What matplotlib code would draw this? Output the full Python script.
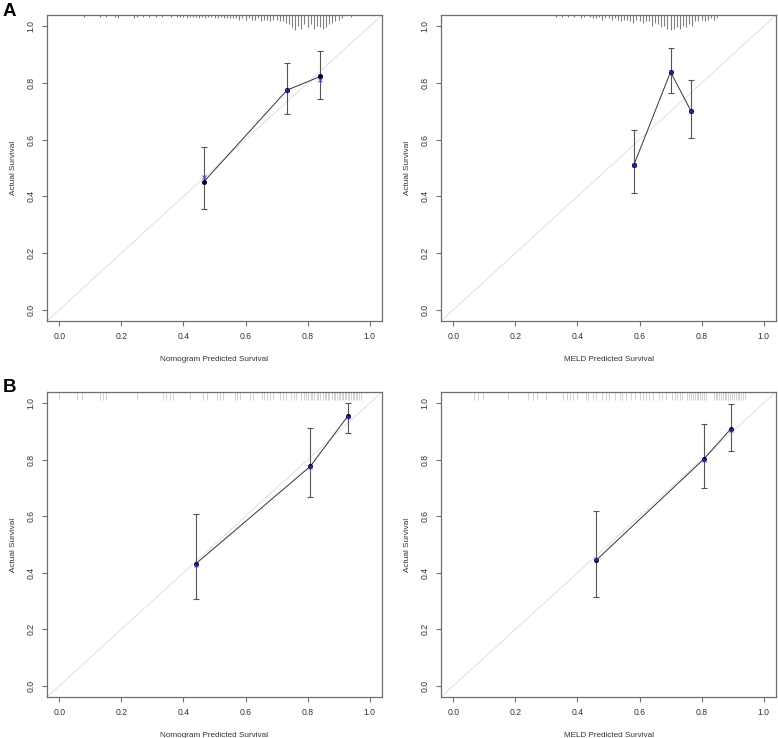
import matplotlib
matplotlib.use("Agg")
import matplotlib.pyplot as plt

plt.rcParams['font.family'] = ['Liberation Sans', 'DejaVu Sans']

# ---------------- data ----------------
# Panel A, nomogram
a1_pred = [0.466, 0.734, 0.841]
a1_obs = [0.452, 0.775, 0.823]
a1_corr = [0.469, 0.775, 0.811]
a1_lo = [0.355, 0.689, 0.742]
a1_hi = [0.575, 0.872, 0.913]
a1_rug_x = [0.08, 0.13, 0.15, 0.18, 0.19, 0.24, 0.25, 0.27, 0.29, 0.31, 0.33, 0.36,
            0.38, 0.39, 0.40, 0.41, 0.42, 0.43, 0.44, 0.45, 0.46, 0.47, 0.48, 0.49,
            0.50, 0.51, 0.52, 0.53, 0.54, 0.55, 0.56, 0.57, 0.58, 0.59, 0.60, 0.61,
            0.62, 0.63, 0.64, 0.65, 0.66, 0.67, 0.68, 0.69, 0.70, 0.71, 0.72, 0.73,
            0.74, 0.75, 0.76, 0.77, 0.78, 0.79, 0.80, 0.81, 0.82, 0.83, 0.84, 0.85,
            0.86, 0.87, 0.88, 0.89, 0.90, 0.91, 0.94]
a1_rug_h = [1, 1, 1, 1, 2, 2, 1, 1, 1, 1, 1, 1,
            1, 1, 1, 2, 1, 1, 1, 2, 1, 2, 1, 1,
            2, 2, 1, 2, 2, 2, 2, 2, 3, 2, 3, 2,
            3, 3, 2, 4, 3, 3, 4, 3, 3, 4, 4, 5,
            6, 8, 10, 7, 9, 6, 8, 6, 9, 7, 8, 9,
            8, 6, 5, 4, 3, 2, 1]

# Panel A, MELD
a2_pred = [0.582, 0.700, 0.766]
a2_obs = [0.511, 0.839, 0.701]
a2_corr = [0.511, 0.839, 0.701]
a2_lo = [0.411, 0.763, 0.605]
a2_hi = [0.634, 0.924, 0.809]
a2_rug_x = [0.33, 0.35, 0.37, 0.39, 0.41, 0.42, 0.44, 0.45, 0.46, 0.47, 0.48, 0.49,
            0.50, 0.51, 0.52, 0.53, 0.54, 0.55, 0.56, 0.57, 0.58, 0.59, 0.60, 0.61,
            0.62, 0.63, 0.64, 0.65, 0.66, 0.67, 0.68, 0.69, 0.70, 0.71, 0.72, 0.73,
            0.74, 0.75, 0.76, 0.77, 0.78, 0.79, 0.80, 0.81, 0.82, 0.83, 0.84, 0.85]
a2_rug_h = [1, 1, 1, 1, 2, 1, 1, 2, 2, 1, 3, 2,
            2, 3, 2, 3, 4, 3, 3, 4, 5, 3, 4, 5,
            4, 4, 7, 5, 6, 8, 7, 9, 10, 9, 8, 9,
            7, 8, 6, 7, 4, 4, 3, 4, 3, 2, 3, 2]

# Panel B, nomogram
b1_pred = [0.440, 0.809, 0.930]
b1_obs = [0.432, 0.777, 0.955]
b1_corr = [0.428, 0.775, 0.950]
b1_lo = [0.307, 0.667, 0.896]
b1_hi = [0.607, 0.911, 1.000]
b1_rug_x = [0.00, 0.058, 0.074, 0.13, 0.14, 0.15, 0.25, 0.335, 0.345, 0.355, 0.367,
            0.421, 0.464, 0.475, 0.508, 0.518, 0.528, 0.566, 0.574, 0.582, 0.614,
            0.624, 0.652, 0.66, 0.668, 0.678, 0.689, 0.71, 0.72, 0.732, 0.748, 0.756,
            0.764, 0.78, 0.79, 0.795, 0.80, 0.81, 0.815, 0.82, 0.83, 0.835, 0.84,
            0.85, 0.855, 0.86, 0.865, 0.87, 0.88, 0.885, 0.89, 0.895, 0.90, 0.905,
            0.91, 0.915, 0.92, 0.925, 0.93, 0.935, 0.94, 0.945, 0.95, 0.955, 0.96,
            0.965, 0.973]

# Panel B, MELD
b2_pred = [0.460, 0.807, 0.894]
b2_obs = [0.444, 0.802, 0.909]
b2_corr = [0.450, 0.800, 0.905]
b2_lo = [0.315, 0.699, 0.830]
b2_hi = [0.618, 0.928, 0.998]
b2_rug_x = [0.065, 0.08, 0.097, 0.177, 0.24, 0.255, 0.27, 0.30, 0.354, 0.365, 0.375,
            0.386, 0.398, 0.429, 0.433, 0.45, 0.46, 0.48, 0.493, 0.503, 0.52, 0.536,
            0.544, 0.557, 0.573, 0.585, 0.60, 0.61, 0.62, 0.63, 0.642, 0.663, 0.672,
            0.685, 0.706, 0.714, 0.722, 0.73, 0.738, 0.754, 0.76, 0.766, 0.772, 0.778,
            0.784, 0.79, 0.796, 0.802, 0.808, 0.813, 0.839, 0.845, 0.85, 0.856, 0.862,
            0.868, 0.874, 0.88, 0.886, 0.892, 0.898, 0.904, 0.91, 0.916, 0.922, 0.928,
            0.934, 0.941]

ticks = [0.0, 0.2, 0.4, 0.6, 0.8, 1.0]
tick_labels = ["0.0", "0.2", "0.4", "0.6", "0.8", "1.0"]
xlabels = ["Nomogram Predicted Survival", "MELD Predicted Survival"]
ylabel = "Actual Survival"

# ---------------- figure ----------------
fig = plt.figure(figsize=(7.78, 7.38), dpi=100)
positions = [
    [47 / 778, 1 - 321 / 738, 335 / 778, 306 / 738],
    [441 / 778, 1 - 321 / 738, 335 / 778, 306 / 738],
    [47 / 778, 1 - 697 / 738, 335 / 778, 305 / 738],
    [441 / 778, 1 - 697 / 738, 335 / 778, 305 / 738],
]

FS = 5.9
TFS = 6.2
TXT = '#333333'
FRAME = '#6f6f6f'


def style_axes(ax, xlabel):
    ax.set_xlim(-0.04, 1.04)
    ax.set_ylim(-0.04, 1.04)
    ax.set_xticks(ticks)
    ax.set_xticklabels(tick_labels)
    ax.set_yticks(ticks)
    ax.set_yticklabels(tick_labels, rotation=90, va='center')
    ax.tick_params(axis='both', direction='out', length=3.5, width=0.8,
                   color=FRAME, labelsize=TFS, labelcolor=TXT, pad=4.5)
    for s in ax.spines.values():
        s.set_color(FRAME)
        s.set_linewidth(0.9)
    ax.set_xlabel(xlabel, fontsize=FS, color=TXT, labelpad=11)
    ax.set_ylabel(ylabel, fontsize=FS, color=TXT, labelpad=7)


def draw_panel(ax, pred, obs, corr, lo, hi, xlabel):
    style_axes(ax, xlabel)
    ax.plot([-0.04, 1.04], [-0.04, 1.04], color='#e4e4e4', lw=0.8, zorder=1)
    yerr = [[o - l for o, l in zip(obs, lo)], [h - o for o, h in zip(obs, hi)]]
    ax.errorbar(pred, obs, yerr=yerr, fmt='none', ecolor='#555555',
                elinewidth=0.8, capsize=2.2, capthick=0.8, zorder=2)
    ax.plot(pred, obs, color='#333333', lw=0.7, zorder=3)
    ax.plot(pred, obs, linestyle='none', marker='o', color='#000022',
            markersize=2.6, zorder=4)
    ax.plot(pred, corr, linestyle='none', marker='x', color='#3a3aff',
            markersize=3, mew=0.8, zorder=5, alpha=0.8)


def draw_hist_rug(ax, xs, hs, color='#808080'):
    hmax = max(hs)
    top = 1.04
    for x, h in zip(xs, hs):
        ax.plot([x, x], [top, top - 0.053 * h / hmax], color=color, lw=0.8,
                zorder=2, solid_capstyle='butt')


def draw_rug(ax, xs):
    top = 1.04
    for x in xs:
        ax.plot([x, x], [top, top - 0.028], color='#bdbdbd', lw=0.5, zorder=2,
                solid_capstyle='butt')


ax1 = fig.add_axes(positions[0])
draw_panel(ax1, a1_pred, a1_obs, a1_corr, a1_lo, a1_hi, xlabels[0])
draw_hist_rug(ax1, a1_rug_x, a1_rug_h)

ax2 = fig.add_axes(positions[1])
draw_panel(ax2, a2_pred, a2_obs, a2_corr, a2_lo, a2_hi, xlabels[1])
draw_hist_rug(ax2, a2_rug_x, a2_rug_h)

ax3 = fig.add_axes(positions[2])
draw_panel(ax3, b1_pred, b1_obs, b1_corr, b1_lo, b1_hi, xlabels[0])
draw_rug(ax3, b1_rug_x)

ax4 = fig.add_axes(positions[3])
draw_panel(ax4, b2_pred, b2_obs, b2_corr, b2_lo, b2_hi, xlabels[1])
draw_rug(ax4, b2_rug_x)

fig.text(9 / 778, 1 - 11 / 738, "A", fontsize=13.5, fontweight='bold',
         ha='center', va='center', color='black')
fig.text(9 / 778, 1 - 387 / 738, "B", fontsize=13.5, fontweight='bold',
         ha='center', va='center', color='black')

fig.savefig("out.png", dpi=100)
